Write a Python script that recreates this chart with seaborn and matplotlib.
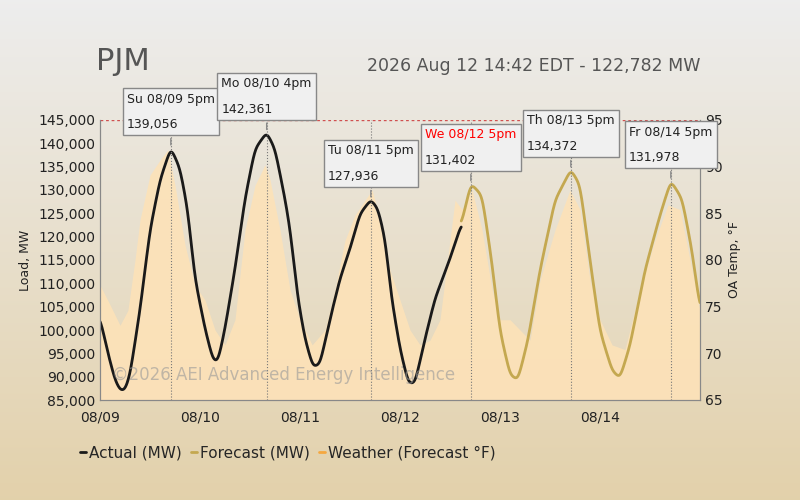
import matplotlib
matplotlib.use("Agg")
import matplotlib.pyplot as plt
import matplotlib.ticker as mticker
from matplotlib.lines import Line2D
from matplotlib.offsetbox import TextArea, VPacker, AnnotationBbox
import seaborn as sns
import numpy as np
import pandas as pd

# hours since 08/09 00:00 and load (MW)
actual_h = [0, 2, 3.6, 4.8, 6, 7.2, 9.6, 12, 14.4, 17, 19.2, 21, 22.8, 25.2, 27.1, 28.3, 30, 32.4, 34.8, 37.2,
            40, 42, 44.4, 45.6, 47.5, 49.2, 51.1, 52.8, 55.2, 57.6, 60, 62.4, 65, 66.7, 68.4, 70, 72, 74, 75.6,
            78, 80.4, 84, 86.7]
actual_mw = [102600, 94700, 89300, 87100, 87100, 90400, 104300, 121400, 132100, 139056, 134600, 126000, 111000,
             100300, 93600, 93200, 100300, 113100, 128100, 138800, 142361, 138800, 128100, 121700, 106700, 98100,
             92100, 92700, 102300, 111000, 117400, 124900, 127936, 126000, 119600, 106700, 96000, 88600, 88600,
             98100, 106700, 115300, 122600]
fc_h = [86.7, 89, 91.7, 94, 96, 98.4, 100.3, 102.7, 105.6, 109.2, 113, 115.2, 117.6, 120, 122.9, 124.8, 127.2,
        130.8, 134.4, 137, 139.7, 142, 144]
fc_mw = [122600, 131402, 128800, 114800, 99800, 90400, 89300, 97800, 112800, 127800, 134372, 131100, 115000,
         99800, 91300, 89700, 96700, 112800, 124600, 131978, 128100, 117400, 104600]
temp_h = [0, 2.4, 4.8, 6.7, 8.4, 9.6, 12, 14.4, 16.3, 18, 20.4, 22.8, 25.2, 27.6, 30, 32.4, 34.8, 37.2, 39.6, 40.8,
          43.2, 45.6, 48, 50.9, 54, 56.4, 58.8, 61.2, 63.6, 65.3, 67.2, 69.6, 72, 74.4, 76.8, 79.2, 81.6, 85.2,
          86.9, 89.3, 91.7, 94.1, 96, 98.4, 100.8, 103.2, 105.6, 109.2, 112.8, 115.2, 117.6, 120, 122.9, 126,
          129.6, 133.2, 136.3, 139.2, 141.6, 144]
temp_f = [77.3, 75.2, 73.0, 74.6, 80.0, 84.3, 89.1, 90.7, 91.8, 88.0, 81.6, 77.3, 75.7, 72.5, 70.9, 73.6, 83.2,
          88.0, 90.2, 88.6, 83.2, 76.8, 73.6, 70.9, 72.5, 76.8, 82.1, 84.8, 86.4, 87.5, 84.3, 78.9, 75.7, 72.5,
          70.9, 71.4, 73.6, 86.4, 85.4, 87.5, 83.2, 76.8, 73.6, 73.6, 72.5, 71.4, 77.8, 83.2, 87.5, 85.4, 77.8,
          73.6, 70.9, 70.4, 76.8, 82.1, 85.9, 85.4, 80.0, 74.6]
peak_h = [17, 40, 65, 89, 113, 137]
peak_mw = [139056, 142361, 127936, 131402, 134372, 131978]
peak_lbl = ["Su 08/09 5pm", "Mo 08/10 4pm", "Tu 08/11 5pm", "We 08/12 5pm", "Th 08/13 5pm", "Fr 08/14 5pm"]
day_lbl = ["08/09", "08/10", "08/11", "08/12", "08/13", "08/14"]


def smooth(h, v, sigma=0.5):
    # resample finely and soften corners only a little
    xs = np.linspace(h[0], h[-1], int((h[-1] - h[0]) * 10) + 1)
    ys = np.interp(xs, h, v)
    k = np.arange(-20, 21) / 10.0
    w = np.exp(-0.5 * (k / sigma) ** 2); w /= w.sum()
    pad = np.pad(ys, 20, mode="edge")
    return xs, np.convolve(pad, w, mode="valid")


sns.set_style("white")
plt.rcParams['font.family'] = ['DejaVu Sans']
fig = plt.figure(figsize=(8, 5), dpi=100)

# background gradient
bg = fig.add_axes([0, 0, 1, 1], zorder=-10)
grad = np.linspace(0, 1, 256)[:, None]
top = np.array([0.93, 0.93, 0.93]); bot = np.array([0.89, 0.82, 0.67])
img = top[None, None, :] * (1 - grad[..., None]) + bot[None, None, :] * grad[..., None]
bg.imshow(img, aspect="auto", extent=[0, 1, 0, 1])
bg.axis("off")

ax = fig.add_axes([0.125, 0.2, 0.75, 0.56])
ax2 = ax.twinx()
ax.set_zorder(2); ax.patch.set_visible(False)
ax2.set_facecolor("#fbf7ee")

ax2.fill_between(temp_h, 65, temp_f, color="#fde2b8", alpha=0.9, lw=0)
ax2.set_ylim(65, 95)
ax2.set_yticks(range(65, 96, 5))
ax2.set_ylabel("OA Temp, °F", fontsize=9, color="#222")

xa, ya = smooth(actual_h, actual_mw)
xf, yf = smooth(fc_h, fc_mw)
sns.lineplot(x=xa, y=ya, ax=ax, color="#1a1a1a", lw=2)
sns.lineplot(x=xf, y=yf, ax=ax, color="#c4a850", lw=2)
ax.set_xlim(0, 144)
ax.set_ylim(85000, 145000)
ax.set_yticks(range(85000, 145001, 5000))
ax.yaxis.set_major_formatter(mticker.FuncFormatter(lambda v, p: f"{int(v):,}"))
ax.set_xticks(range(0, 144, 24))
ax.set_xticklabels(day_lbl)
ax.set_ylabel("Load, MW", fontsize=9, color="#222")
ax.axhline(145000, color="#d05050", lw=1, ls=(0, (2, 2)))
for a in (ax, ax2):
    a.tick_params(labelsize=10, colors="#222", length=4)
    for s in a.spines.values():
        s.set_color("#888")
ax.tick_params(axis="y", length=0)
ax2.tick_params(axis="y", length=0)
ax.spines["top"].set_visible(False); ax2.spines["top"].set_visible(False)

for h, v, l in zip(peak_h, peak_mw, peak_lbl):
    ax.axvline(h, color="#777", lw=0.8, ls=":")
    col = "red" if l.startswith("We") else "#222"
    box = VPacker(children=[TextArea(l, textprops=dict(color=col, size=9)),
                            TextArea(f"{v:,}", textprops=dict(color="#222", size=9))],
                  align="left", pad=0, sep=9)
    ab = AnnotationBbox(box, (h, v), xybox=(0, 12), xycoords="data", boxcoords="offset points",
                        box_alignment=(0.5, 0), pad=0.45, annotation_clip=False,
                        bboxprops=dict(boxstyle="square", fc="#f0f0f0", ec="#888"),
                        arrowprops=dict(arrowstyle="-", color="#888"))
    ax.add_artist(ab)

ax.text(0.02, 0.07, "©2026 AEI Advanced Energy Intelligence", transform=ax.transAxes,
        fontsize=12, color="#999", alpha=0.6)

fig.text(0.12, 0.86, "PJM", fontsize=22, color="#555")
fig.text(0.875, 0.858, "2026 Aug 12 14:42 EDT - 122,782 MW", fontsize=12.5, color="#555", ha="right")

hand = [Line2D([], [], color="#1a1a1a", lw=2), Line2D([], [], color="#c4a850", lw=2),
        Line2D([], [], color="#f5a840", lw=2)]
fig.legend(hand, ["Actual (MW)", "Forecast (MW)", "Weather (Forecast °F)"], loc="center",
           bbox_to_anchor=(0.36, 0.095), ncol=3, frameon=False, fontsize=11,
           handlelength=0.4, handletextpad=0.2, columnspacing=0.6)

fig.savefig("out.png", dpi=100)
